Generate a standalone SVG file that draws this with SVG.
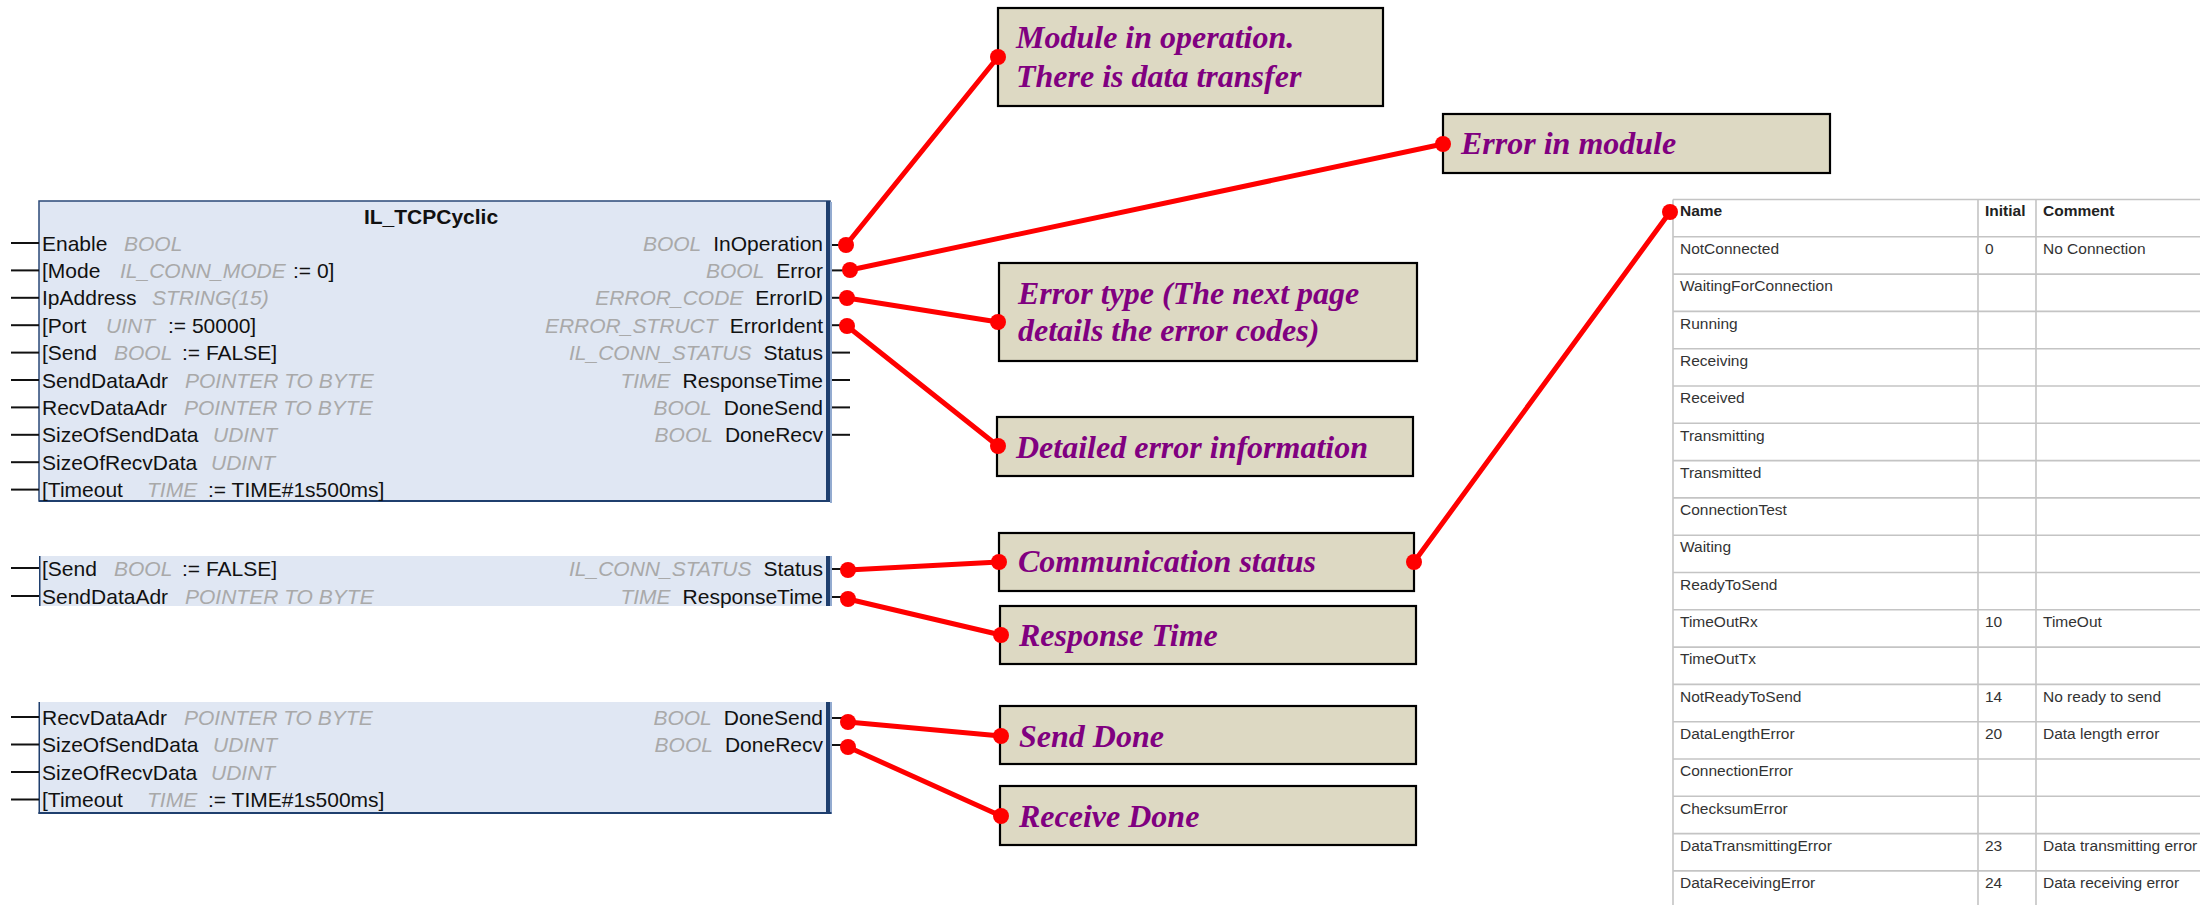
<svg xmlns="http://www.w3.org/2000/svg" width="2200" height="905" viewBox="0 0 2200 905">
  <style>
    .fbText { font-family: "Liberation Sans", Arial, sans-serif; font-size: 21px; fill: #111; }
    .fbType { font-family: "Liberation Sans", Arial, sans-serif; font-size: 21px; font-style: italic; fill: #a9a9a9; }
    .fbTitle { font-family: "Liberation Sans", Arial, sans-serif; font-size: 21px; font-weight: bold; fill: #111; }
    .fbBody { fill: #e0e7f3; }
    .fbEdge { fill: #1f3f6e; }
    .fbShade { fill: #93abd0; }
    .pin { stroke: #111; stroke-width: 2; }
    .note { fill: #ddd9c3; stroke: #000; stroke-width: 2.2; }
    .noteText { font-family: "Liberation Serif", "Times New Roman", serif; font-size: 32px; font-weight: bold; font-style: italic; fill: #800080; }
    .wire { stroke: #ff0000; stroke-width: 5; stroke-linecap: round; fill: none; }
    .dot { fill: #ff0000; }
    .grid { stroke: #c4c4c4; stroke-width: 1.6; }
    .cell { font-family: "Liberation Sans", Arial, sans-serif; font-size: 15.5px; fill: #333; }
    .head { font-family: "Liberation Sans", Arial, sans-serif; font-size: 15.5px; font-weight: bold; fill: #222; }
  </style>

  <rect width="2200" height="905" fill="#ffffff"/>

  <!-- Function block IL_TCPCyclic (full view) -->
  <g id="fb-main">
    <rect class="fbBody" x="39" y="201" width="791" height="300" stroke="#2b4a78" stroke-width="1.5"/>
    <rect class="fbEdge" x="826" y="201" width="4" height="301"/>
    <rect class="fbShade" x="830" y="202" width="2" height="301"/>
    <rect class="fbEdge" x="39" y="500" width="791" height="2"/>
    <text class="fbTitle" x="431" y="224" text-anchor="middle">IL_TCPCyclic</text>

    <!-- inputs -->
    <g class="pin">
      <line x1="11" y1="243" x2="39" y2="243"/>
      <line x1="11" y1="270.4" x2="39" y2="270.4"/>
      <line x1="11" y1="297.8" x2="39" y2="297.8"/>
      <line x1="11" y1="325.2" x2="39" y2="325.2"/>
      <line x1="11" y1="352.6" x2="39" y2="352.6"/>
      <line x1="11" y1="380" x2="39" y2="380"/>
      <line x1="11" y1="407.4" x2="39" y2="407.4"/>
      <line x1="11" y1="434.8" x2="39" y2="434.8"/>
      <line x1="11" y1="462.2" x2="39" y2="462.2"/>
      <line x1="11" y1="489.6" x2="39" y2="489.6"/>
    </g>
    <text class="fbText" x="42" y="250.5">Enable</text><text class="fbType" x="124" y="250.5">BOOL</text>
    <text class="fbText" x="42" y="278">[Mode</text><text class="fbType" x="120" y="278">IL_CONN_MODE</text><text class="fbText" x="293" y="278">:= 0]</text>
    <text class="fbText" x="42" y="305.3">IpAddress</text><text class="fbType" x="152" y="305.3">STRING(15)</text>
    <text class="fbText" x="42" y="332.7">[Port</text><text class="fbType" x="106" y="332.7">UINT</text><text class="fbText" x="168" y="332.7">:= 50000]</text>
    <text class="fbText" x="42" y="360.1">[Send</text><text class="fbType" x="114" y="360.1">BOOL</text><text class="fbText" x="182" y="360.1">:= FALSE]</text>
    <text class="fbText" x="42" y="387.5">SendDataAdr</text><text class="fbType" x="185" y="387.5">POINTER TO BYTE</text>
    <text class="fbText" x="42" y="414.9">RecvDataAdr</text><text class="fbType" x="184" y="414.9">POINTER TO BYTE</text>
    <text class="fbText" x="42" y="442.3">SizeOfSendData</text><text class="fbType" x="213" y="442.3">UDINT</text>
    <text class="fbText" x="42" y="469.7">SizeOfRecvData</text><text class="fbType" x="211" y="469.7">UDINT</text>
    <text class="fbText" x="42" y="497">[Timeout</text><text class="fbType" x="147" y="497">TIME</text><text class="fbText" x="208" y="497">:= TIME#1s500ms]</text>

    <!-- outputs -->
    <g class="pin">
      <line x1="832" y1="245" x2="846" y2="245"/>
      <line x1="832" y1="270.4" x2="850" y2="270.4"/>
      <line x1="832" y1="297.8" x2="847" y2="297.8"/>
      <line x1="832" y1="325.2" x2="847" y2="325.2"/>
      <line x1="832" y1="352.6" x2="850" y2="352.6"/>
      <line x1="832" y1="380" x2="850" y2="380"/>
      <line x1="832" y1="407.4" x2="850" y2="407.4"/>
      <line x1="832" y1="434.8" x2="850" y2="434.8"/>
    </g>
    <text x="823" y="250.5" text-anchor="end"><tspan class="fbType">BOOL</tspan><tspan class="fbText" dx="12">InOperation</tspan></text>
    <text x="823" y="278" text-anchor="end"><tspan class="fbType">BOOL</tspan><tspan class="fbText" dx="12">Error</tspan></text>
    <text x="823" y="305.3" text-anchor="end"><tspan class="fbType">ERROR_CODE</tspan><tspan class="fbText" dx="12">ErrorID</tspan></text>
    <text x="823" y="332.7" text-anchor="end"><tspan class="fbType">ERROR_STRUCT</tspan><tspan class="fbText" dx="12">ErrorIdent</tspan></text>
    <text x="823" y="360.1" text-anchor="end"><tspan class="fbType">IL_CONN_STATUS</tspan><tspan class="fbText" dx="12">Status</tspan></text>
    <text x="823" y="387.5" text-anchor="end"><tspan class="fbType">TIME</tspan><tspan class="fbText" dx="12">ResponseTime</tspan></text>
    <text x="823" y="414.9" text-anchor="end"><tspan class="fbType">BOOL</tspan><tspan class="fbText" dx="12">DoneSend</tspan></text>
    <text x="823" y="442.3" text-anchor="end"><tspan class="fbType">BOOL</tspan><tspan class="fbText" dx="12">DoneRecv</tspan></text>
  </g>

  <!-- Excerpt: Status / ResponseTime -->
  <g id="fb-status">
    <rect class="fbBody" x="39" y="556" width="791" height="50"/>
    <rect class="fbEdge" x="39" y="556" width="1.5" height="50"/>
    <rect class="fbEdge" x="826" y="556" width="4" height="50"/>
    <rect class="fbShade" x="830" y="556" width="2" height="50"/>
    <g class="pin">
      <line x1="11" y1="568" x2="39" y2="568"/>
      <line x1="11" y1="596" x2="39" y2="596"/>
      <line x1="832" y1="569" x2="848" y2="569"/>
      <line x1="832" y1="597" x2="848" y2="597"/>
    </g>
    <text class="fbText" x="42" y="575.5">[Send</text><text class="fbType" x="114" y="575.5">BOOL</text><text class="fbText" x="182" y="575.5">:= FALSE]</text>
    <text class="fbText" x="42" y="603.5">SendDataAdr</text><text class="fbType" x="185" y="603.5">POINTER TO BYTE</text>
    <text x="823" y="575.5" text-anchor="end"><tspan class="fbType">IL_CONN_STATUS</tspan><tspan class="fbText" dx="12">Status</tspan></text>
    <text x="823" y="603.5" text-anchor="end"><tspan class="fbType">TIME</tspan><tspan class="fbText" dx="12">ResponseTime</tspan></text>
  </g>

  <!-- Excerpt: DoneSend / DoneRecv -->
  <g id="fb-done">
    <rect class="fbBody" x="39" y="702" width="791" height="112"/>
    <rect class="fbEdge" x="38.5" y="702" width="1.5" height="112"/>
    <rect class="fbEdge" x="826" y="702" width="4" height="112"/>
    <rect class="fbShade" x="830" y="702" width="2" height="112"/>
    <rect class="fbEdge" x="38.5" y="812" width="793" height="2"/>
    <g class="pin">
      <line x1="11" y1="717" x2="39" y2="717"/>
      <line x1="11" y1="744.5" x2="39" y2="744.5"/>
      <line x1="11" y1="772" x2="39" y2="772"/>
      <line x1="11" y1="799.5" x2="39" y2="799.5"/>
      <line x1="832" y1="718" x2="848" y2="718"/>
      <line x1="832" y1="745" x2="848" y2="745"/>
    </g>
    <text class="fbText" x="42" y="724.5">RecvDataAdr</text><text class="fbType" x="184" y="724.5">POINTER TO BYTE</text>
    <text class="fbText" x="42" y="752">SizeOfSendData</text><text class="fbType" x="213" y="752">UDINT</text>
    <text class="fbText" x="42" y="779.5">SizeOfRecvData</text><text class="fbType" x="211" y="779.5">UDINT</text>
    <text class="fbText" x="42" y="807">[Timeout</text><text class="fbType" x="147" y="807">TIME</text><text class="fbText" x="208" y="807">:= TIME#1s500ms]</text>
    <text x="823" y="724.5" text-anchor="end"><tspan class="fbType">BOOL</tspan><tspan class="fbText" dx="12">DoneSend</tspan></text>
    <text x="823" y="752" text-anchor="end"><tspan class="fbType">BOOL</tspan><tspan class="fbText" dx="12">DoneRecv</tspan></text>
  </g>

  <!-- Callout notes -->
  <g id="note-inoperation">
    <rect class="note" x="998" y="8" width="385" height="98"/>
    <text class="noteText" x="1016" y="48">Module in operation.</text>
    <text class="noteText" x="1016" y="87">There is data transfer</text>
  </g>
  <g id="note-error">
    <rect class="note" x="1443" y="114" width="387" height="59"/>
    <text class="noteText" x="1461" y="154">Error in module</text>
  </g>
  <g id="note-errorid">
    <rect class="note" x="999" y="263" width="418" height="98"/>
    <text class="noteText" x="1018" y="304">Error type (The next page</text>
    <text class="noteText" x="1018" y="341">details the error codes)</text>
  </g>
  <g id="note-errorident">
    <rect class="note" x="997" y="417" width="416" height="59"/>
    <text class="noteText" x="1016" y="458">Detailed error information</text>
  </g>
  <g id="note-status">
    <rect class="note" x="999" y="533" width="415" height="58"/>
    <text class="noteText" x="1018" y="572">Communication status</text>
  </g>
  <g id="note-responsetime">
    <rect class="note" x="1000" y="606" width="416" height="58"/>
    <text class="noteText" x="1019" y="646">Response Time</text>
  </g>
  <g id="note-donesend">
    <rect class="note" x="1000" y="706" width="416" height="58"/>
    <text class="noteText" x="1019" y="747">Send Done</text>
  </g>
  <g id="note-donerecv">
    <rect class="note" x="1000" y="786" width="416" height="59"/>
    <text class="noteText" x="1019" y="827">Receive Done</text>
  </g>

  <!-- IL_CONN_STATUS enumeration table -->
  <g id="status-table">
    <g class="grid">
      <line x1="1673" y1="199.5" x2="1673" y2="905"/>
      <line x1="1978" y1="199.5" x2="1978" y2="905"/>
      <line x1="2036" y1="199.5" x2="2036" y2="905"/>
      <line x1="1673" y1="199.5" x2="2200" y2="199.5"/>
      <line x1="1673" y1="236.8" x2="2200" y2="236.8"/>
      <line x1="1673" y1="274.1" x2="2200" y2="274.1"/>
      <line x1="1673" y1="311.4" x2="2200" y2="311.4"/>
      <line x1="1673" y1="348.7" x2="2200" y2="348.7"/>
      <line x1="1673" y1="386" x2="2200" y2="386"/>
      <line x1="1673" y1="423.3" x2="2200" y2="423.3"/>
      <line x1="1673" y1="460.6" x2="2200" y2="460.6"/>
      <line x1="1673" y1="497.9" x2="2200" y2="497.9"/>
      <line x1="1673" y1="535.2" x2="2200" y2="535.2"/>
      <line x1="1673" y1="572.5" x2="2200" y2="572.5"/>
      <line x1="1673" y1="609.8" x2="2200" y2="609.8"/>
      <line x1="1673" y1="647.1" x2="2200" y2="647.1"/>
      <line x1="1673" y1="684.4" x2="2200" y2="684.4"/>
      <line x1="1673" y1="721.7" x2="2200" y2="721.7"/>
      <line x1="1673" y1="759" x2="2200" y2="759"/>
      <line x1="1673" y1="796.3" x2="2200" y2="796.3"/>
      <line x1="1673" y1="833.6" x2="2200" y2="833.6"/>
      <line x1="1673" y1="870.9" x2="2200" y2="870.9"/>
    </g>
    <text class="head" x="1680" y="216">Name</text>
    <text class="head" x="1985" y="216">Initial</text>
    <text class="head" x="2043" y="216">Comment</text>

    <text class="cell" x="1680" y="254">NotConnected</text><text class="cell" x="1985" y="254">0</text><text class="cell" x="2043" y="254">No Connection</text>
    <text class="cell" x="1680" y="291.3">WaitingForConnection</text>
    <text class="cell" x="1680" y="328.6">Running</text>
    <text class="cell" x="1680" y="365.9">Receiving</text>
    <text class="cell" x="1680" y="403.2">Received</text>
    <text class="cell" x="1680" y="440.5">Transmitting</text>
    <text class="cell" x="1680" y="477.8">Transmitted</text>
    <text class="cell" x="1680" y="515.1">ConnectionTest</text>
    <text class="cell" x="1680" y="552.4">Waiting</text>
    <text class="cell" x="1680" y="589.7">ReadyToSend</text>
    <text class="cell" x="1680" y="627">TimeOutRx</text><text class="cell" x="1985" y="627">10</text><text class="cell" x="2043" y="627">TimeOut</text>
    <text class="cell" x="1680" y="664.3">TimeOutTx</text>
    <text class="cell" x="1680" y="701.6">NotReadyToSend</text><text class="cell" x="1985" y="701.6">14</text><text class="cell" x="2043" y="701.6">No ready to send</text>
    <text class="cell" x="1680" y="738.9">DataLengthError</text><text class="cell" x="1985" y="738.9">20</text><text class="cell" x="2043" y="738.9">Data length error</text>
    <text class="cell" x="1680" y="776.2">ConnectionError</text>
    <text class="cell" x="1680" y="813.5">ChecksumError</text>
    <text class="cell" x="1680" y="850.8">DataTransmittingError</text><text class="cell" x="1985" y="850.8">23</text><text class="cell" x="2043" y="850.8">Data transmitting error</text>
    <text class="cell" x="1680" y="888.1">DataReceivingError</text><text class="cell" x="1985" y="888.1">24</text><text class="cell" x="2043" y="888.1">Data receiving error</text>
  </g>

  <!-- Red callout connectors with round end points -->
  <g id="connectors">
    <line class="wire" x1="846" y1="245" x2="998" y2="57"/>
    <line class="wire" x1="850" y1="270" x2="1443" y2="144"/>
    <line class="wire" x1="847" y1="298" x2="998" y2="322"/>
    <line class="wire" x1="847" y1="326" x2="998" y2="446"/>
    <line class="wire" x1="848" y1="570" x2="999" y2="562"/>
    <line class="wire" x1="848" y1="599" x2="1001" y2="635"/>
    <line class="wire" x1="848" y1="722" x2="1001" y2="736"/>
    <line class="wire" x1="848" y1="747" x2="1001" y2="816"/>
    <line class="wire" x1="1414" y1="562" x2="1670" y2="212"/>
    <g class="dot">
      <circle cx="846" cy="245" r="8"/><circle cx="998" cy="57" r="8"/>
      <circle cx="850" cy="270" r="8"/><circle cx="1443" cy="144" r="8"/>
      <circle cx="847" cy="298" r="8"/><circle cx="998" cy="322" r="8"/>
      <circle cx="847" cy="326" r="8"/><circle cx="998" cy="446" r="8"/>
      <circle cx="848" cy="570" r="8"/><circle cx="999" cy="562" r="8"/>
      <circle cx="848" cy="599" r="8"/><circle cx="1001" cy="635" r="8"/>
      <circle cx="848" cy="722" r="8"/><circle cx="1001" cy="736" r="8"/>
      <circle cx="848" cy="747" r="8"/><circle cx="1001" cy="816" r="8"/>
      <circle cx="1414" cy="562" r="8"/><circle cx="1670" cy="212" r="8"/>
    </g>
  </g>
</svg>
